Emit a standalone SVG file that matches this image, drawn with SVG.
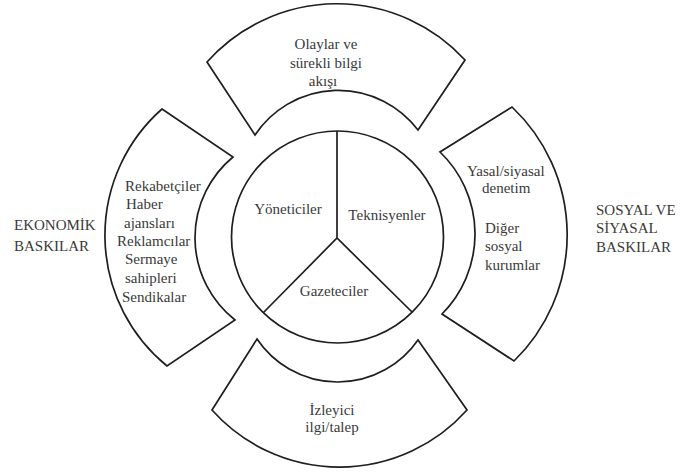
<svg xmlns="http://www.w3.org/2000/svg" width="682" height="472" viewBox="0 0 682 472">
<style>
.shape{fill:none;stroke:#1e1e1e;stroke-width:1.7;stroke-linejoin:miter}
.t{font-family:'Liberation Serif', 'DejaVu Serif', serif;font-size:15px;fill:#3a3a3a}
.m{text-anchor:middle}
</style>
<rect width="682" height="472" fill="#ffffff"/>
<g id="top-segment">
<path class="shape" d="M207,62 A174,174 0 0 1 465,60 L418,130 A100,100 0 0 0 255,135 Z"/>
<g class="t" font-family="Liberation Serif, serif">
<text class="m" x="326" y="49">Olaylar ve</text>
<text class="m" x="326" y="67.5">sürekli bilgi</text>
<text class="m" x="323" y="85.5">akışı</text>
</g>
</g>
<g id="left-segment">
<path class="shape" d="M162,109 L233,157 A104.7,104.7 0 0 0 235,320 L167,366 A168.5,168.5 0 0 1 162,109 Z"/>
<g class="t" font-family="Liberation Serif, serif">
<text x="125" y="191">Rekabetçiler</text>
<text x="126" y="209">Haber</text>
<text x="124" y="228">ajansları</text>
<text x="117" y="246">Reklamcılar</text>
<text x="125" y="264">Sermaye</text>
<text x="125" y="283">sahipleri</text>
<text x="122" y="302">Sendikalar</text>
</g>
</g>
<g id="right-segment">
<path class="shape" d="M512,107 A176,176 0 0 1 514,361 L442,314 A113.5,113.5 0 0 0 440,152 Z"/>
<g class="t" font-family="Liberation Serif, serif">
<text x="467" y="176">Yasal/siyasal</text>
<text x="482" y="193">denetim</text>
<text x="485" y="233">Diğer</text>
<text x="485" y="251">sosyal</text>
<text x="485" y="270">kurumlar</text>
</g>
</g>
<g id="bottom-segment">
<path class="shape" d="M257,339 A97.5,97.5 0 0 0 418,340 L467,410 A171,171 0 0 1 212,410 Z"/>
<g class="t" font-family="Liberation Serif, serif">
<text class="m" x="332" y="415">İzleyici</text>
<text class="m" x="332" y="432">ilgi/talep</text>
</g>
</g>
<g id="center-circle">
<circle class="shape" cx="337.5" cy="237" r="106"/>
</g>
<g id="connectors">
<path class="shape" d="M337,131 L337,238 M263,313 L337,238 L412,312"/>
</g>
<g id="node-yoneticiler" class="t" font-family="Liberation Serif, serif"><text class="m" x="288" y="214">Yöneticiler</text></g>
<g id="node-teknisyenler" class="t" font-family="Liberation Serif, serif"><text class="m" x="387" y="220">Teknisyenler</text></g>
<g id="node-gazeteciler" class="t" font-family="Liberation Serif, serif"><text class="m" x="334" y="296">Gazeteciler</text></g>
<g id="label-ekonomik" class="t" font-family="Liberation Serif, serif">
<text x="14" y="230">EKONOMİK</text>
<text x="14" y="251">BASKILAR</text>
</g>
<g id="label-sosyal" class="t" font-family="Liberation Serif, serif">
<text x="596" y="215">SOSYAL VE</text>
<text x="596" y="233">SİYASAL</text>
<text x="596" y="252">BASKILAR</text>
</g>
</svg>
